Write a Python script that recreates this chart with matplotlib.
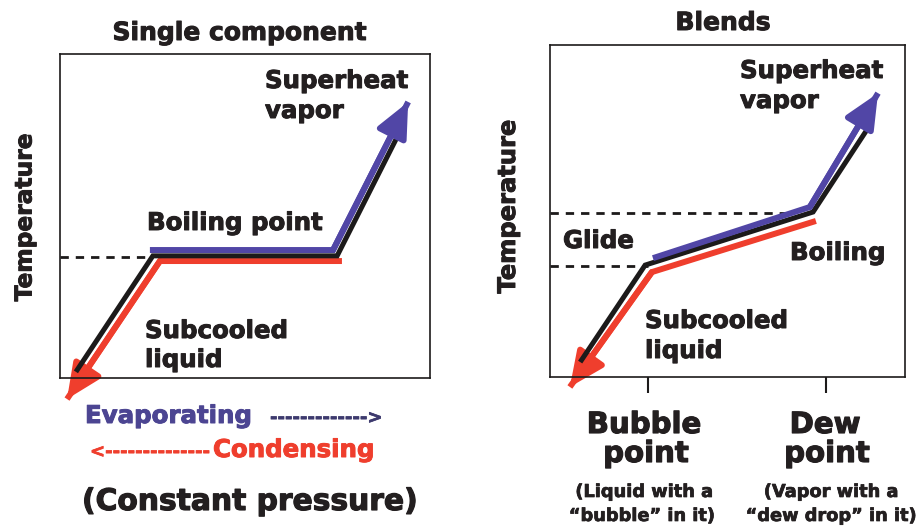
import matplotlib
matplotlib.use('Agg')
import matplotlib.pyplot as plt
import matplotlib.patheffects as pe

# Data (heat added on x, temperature on y, both 0-100)
left_black_x = [4.3, 25.1, 74.9, 91.4]
left_black_y = [1.9, 37.7, 37.7, 75.0]
left_blue_x = [24.3, 73.8, 94.1]
left_blue_y = [39.5, 39.5, 85.2]
left_red_x = [76.2, 27.0, 1.9]
left_red_y = [36.1, 36.1, -6.5]
boil_t = 37.3
boil_dash_end = 24.3

right_black_x = [8.5, 26.8, 74.1, 89.6]
right_black_y = [4.5, 33.7, 49.7, 75.0]
right_blue_x = [29.0, 73.2, 92.4]
right_blue_y = [35.8, 51.2, 85.5]
right_red_x = [74.9, 28.7, 5.6]
right_red_y = [47.0, 31.6, -3.0]
bubble_t = 33.4
dew_t = 49.4
bubble_x = 27.6
dew_x = 77.7
dew_dash_end = 66.8

BLUE = '#5146a6'
RED = '#ef3e2d'
BLACK = '#1c1a1a'
TXT = '#231f20'
W, H = 917, 527

plt.rcParams['font.family'] = ['DejaVu Sans']
plt.rcParams['font.weight'] = 'bold'

fig = plt.figure(figsize=(9.17, 5.27), dpi=100)


def px(x, y):
    return x / W, 1 - y / H


def label(x, y, s, size=17.6, ha='left', va='baseline', color=TXT, **kw):
    # thin stroke to get closer to the heavy print typeface
    fig.text(*px(x, y), s, fontsize=size, ha=ha, va=va, color=color,
             fontweight='bold',
             path_effects=[pe.withStroke(linewidth=0.04 * size, foreground=color)], **kw)


def draw_path(ax, xs, ys, color, lw, z, arrow=True):
    ax.plot(xs, ys, color=color, lw=lw, zorder=z, clip_on=False,
            solid_joinstyle='miter', solid_capstyle='butt')
    if arrow:
        ax.annotate('', xy=(xs[-1], ys[-1]), xytext=(xs[-2], ys[-2]),
                    arrowprops=dict(arrowstyle='-|>,head_length=1.05,head_width=0.48',
                                    color=color, lw=lw, mutation_scale=20,
                                    shrinkA=0, shrinkB=0),
                    annotation_clip=False, zorder=z)


def setup(ax):
    ax.set_xlim(0, 100)
    ax.set_ylim(0, 100)
    ax.set_xticks([])
    ax.set_yticks([])
    for sp in ax.spines.values():
        sp.set_linewidth(1.2)
        sp.set_color(BLACK)


# Left panel: single component
ax1 = fig.add_axes([60 / W, 1 - 378 / H, 370 / W, 324 / H])
setup(ax1)
ax1.plot([0, boil_dash_end], [boil_t, boil_t], color=BLACK, lw=2,
         dashes=(3, 2.5), zorder=1)
draw_path(ax1, left_red_x, left_red_y, RED, 4.3, 2)
draw_path(ax1, left_black_x, left_black_y, BLACK, 3.6, 3, arrow=False)
draw_path(ax1, left_blue_x, left_blue_y, BLUE, 4.3, 4)

# Right panel: blends
ax2 = fig.add_axes([550 / W, 1 - 377 / H, 355 / W, 332 / H])
setup(ax2)
ax2.set_xticks([bubble_x, dew_x])
ax2.set_xticklabels([])
ax2.tick_params(axis='x', direction='out', length=11.5, width=1.5, color=BLACK)
ax2.plot([0, bubble_x], [bubble_t, bubble_t], color=BLACK, lw=2,
         dashes=(3, 2.5), zorder=1)
ax2.plot([0, dew_dash_end], [dew_t, dew_t], color=BLACK, lw=2,
         dashes=(3, 2.5), zorder=1)
draw_path(ax2, right_red_x, right_red_y, RED, 4.3, 2)
draw_path(ax2, right_black_x, right_black_y, BLACK, 3.6, 3, arrow=False)
draw_path(ax2, right_blue_x, right_blue_y, BLUE, 4.3, 4)

# Left texts
label(240, 40, 'Single component', size=18, ha='center')
label(25, 217, 'Temperature', size=16.8, ha='center', va='center', rotation=90)
label(265, 88, 'Superheat')
label(265, 118, 'vapor')
label(147, 230, 'Boiling point')
label(145, 338, 'Subcooled')
label(145, 367, 'liquid')
label(85, 423, 'Evaporating', color='#4c4592')
label(270, 423, '-' * 13 + '>', size=13, color='#3d3a6e')
label(90, 457, '<' + '-' * 14, size=13, color=RED)
label(213, 457, 'Condensing', color=RED)
label(250, 510, '(Constant pressure)', size=21.4, ha='center')

# Right texts
label(723, 30, 'Blends', size=18, ha='center')
label(508, 207, 'Temperature', size=17.4, ha='center', va='center', rotation=90)
label(740, 78, 'Superheat')
label(740, 108, 'vapor')
label(563, 248, 'Glide')
label(790, 260, 'Boiling')
label(645, 328, 'Subcooled')
label(645, 358, 'liquid')
label(644, 433, 'Bubble', size=21, ha='center')
label(646, 462, 'point', size=21, ha='center')
label(644, 497, '(Liquid with a', size=12.8, ha='center')
label(642, 521, '\u201cbubble\u201d in it)', size=12.8, ha='center')
label(825, 433, 'Dew', size=21, ha='center')
label(827, 462, 'point', size=21, ha='center')
label(831, 497, '(Vapor with a', size=12.8, ha='center')
label(831, 521, '\u201cdew drop\u201d in it)', size=12.8, ha='center')

fig.savefig('out.png', dpi=100)
